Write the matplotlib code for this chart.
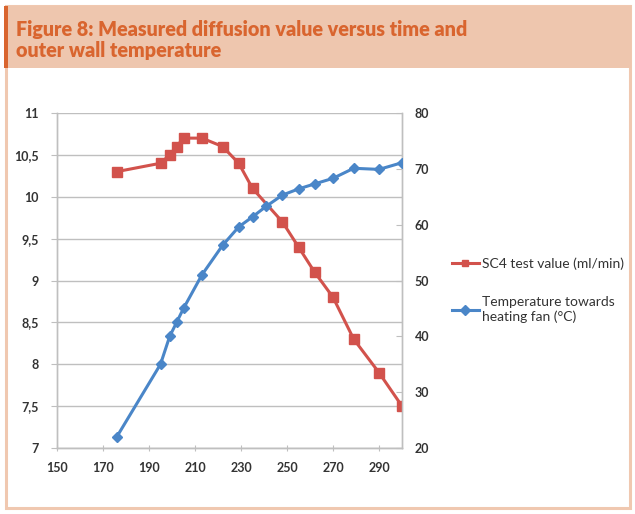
import matplotlib
matplotlib.use("Agg")
import matplotlib.pyplot as plt
from matplotlib.patches import Rectangle
from matplotlib.ticker import FuncFormatter

# data
sc4_time = [176, 195, 199, 202, 205, 213, 222, 229, 235, 248, 255, 262, 270, 279, 290, 300]
sc4_value = [10.3, 10.4, 10.5, 10.6, 10.7, 10.7, 10.6, 10.4, 10.1, 9.7, 9.4, 9.1, 8.8, 8.3, 7.9, 7.5]

temp_time = [176, 195, 199, 202, 205, 213, 222, 229, 235, 241, 248, 255, 262, 270, 279, 290, 300]
temp_value = [22, 35, 40, 42.5, 45, 51, 56.3, 59.6, 61.4, 63.3, 65.3, 66.4, 67.3, 68.3, 70.1, 69.9, 71.1]

x_ticks = [150, 170, 190, 210, 230, 250, 270, 290]
left_ticks = [7, 7.5, 8, 8.5, 9, 9.5, 10, 10.5, 11]
right_ticks = [20, 30, 40, 50, 60, 70, 80]

title = "Figure 8: Measured diffusion value versus time and\nouter wall temperature"
labels = ["SC4 test value (ml/min)", "Temperature towards\nheating fan (\u00b0C)"]

red = "#D2524C"
blue = "#4A86C8"
orange = "#D9652F"
band = "#EEC6AE"
border = "#F0C8B0"
txt = "#333333"

plt.rcParams['font.family'] = ['Lato', 'DejaVu Sans']

W, H = 635, 514
fig = plt.figure(figsize=(W / 100, H / 100), dpi=100)

def fx(px):
    return px / W

def fy(py):
    return 1 - py / H

# white box with light orange border, title band on top
fig.patches.append(Rectangle((fx(6), fy(508)), fx(624), (508 - 6) / H, transform=fig.transFigure,
                             facecolor="white", edgecolor=border, lw=2.2, zorder=-3))
fig.patches.append(Rectangle((fx(5), fy(68)), fx(626), 62 / H, transform=fig.transFigure,
                             facecolor=band, edgecolor="none", zorder=-2))
fig.patches.append(Rectangle((fx(4), fy(68)), fx(4), 62 / H, transform=fig.transFigure,
                             facecolor=orange, edgecolor="none", zorder=-1))
fig.text(fx(16), fy(40), title, color=orange, fontsize=14.2, fontweight="heavy",
         va="center", ha="left", linespacing=1.1)

ax = fig.add_axes([fx(57), fy(448), fx(402 - 57), (448 - 113) / H])
ax2 = ax.twinx()
ax.set_zorder(2)
ax2.set_zorder(3)

l1, = ax.plot(sc4_time, sc4_value, color=red, lw=2.2, marker="s", ms=7,
              markeredgecolor=red, label=labels[0], zorder=3)
l2, = ax2.plot(temp_time, temp_value, color=blue, lw=2.2, marker="D", ms=5.5,
               markeredgecolor=blue, label=labels[1], zorder=4)

ax.set_xlim(150, 300)
ax.set_ylim(7, 11)
ax2.set_ylim(20, 80)
ax.set_xticks(x_ticks)
ax.set_yticks(left_ticks)
ax2.set_yticks(right_ticks)

comma = FuncFormatter(lambda v, p: ("%g" % v).replace(".", ","))
ax.yaxis.set_major_formatter(comma)

ax.grid(axis="y", color="#BFBFBF", lw=1.0)
ax.set_axisbelow(True)
for a in (ax, ax2):
    a.spines["top"].set_visible(False)
    for s in ("left", "bottom", "right"):
        a.spines[s].set_color("#BFBFBF")
        a.spines[s].set_linewidth(1.0)

ax.tick_params(axis="both", colors="#BFBFBF", labelcolor=txt, labelsize=9, length=4, width=0.8)
ax.tick_params(axis="x", direction="inout", pad=8)
ax.tick_params(axis="y", pad=9)
ax2.tick_params(axis="y", colors="#BFBFBF", labelcolor=txt, labelsize=9, length=4, width=0.8,
                direction="in", pad=9)
for lab in ax.get_xticklabels() + ax.get_yticklabels() + ax2.get_yticklabels():
    lab.set_fontweight("bold")

leg = fig.legend(handles=[l1, l2], labels=labels, loc="upper left",
                 bbox_to_anchor=(fx(446), fy(252)), frameon=False, fontsize=10,
                 handlelength=2.0, handletextpad=0.2, labelspacing=1.9, borderaxespad=0)
for t in leg.get_texts():
    t.set_color(txt)
for h in leg.legend_handles:
    h.set_markersize(5)

fig.savefig("out.png", dpi=100)
